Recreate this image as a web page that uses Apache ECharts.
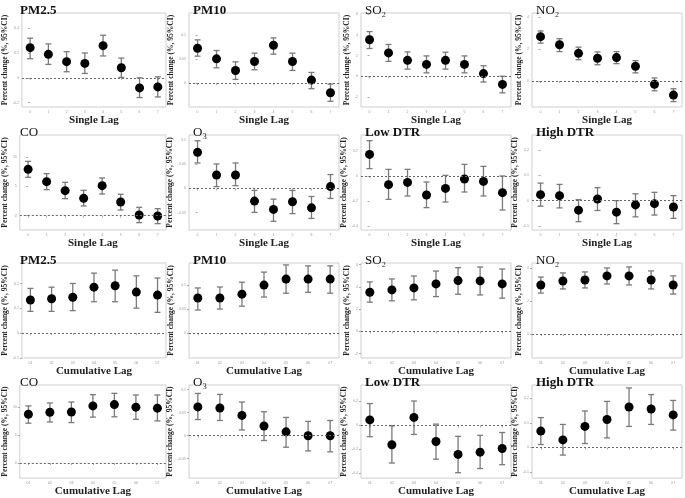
<!DOCTYPE html>
<html>
<head>
<meta charset="utf-8">
<script src="https://cdn.jsdelivr.net/npm/echarts@6/dist/echarts.min.js"></script>
<style>html,body{margin:0;padding:0;background:#fff}#c{width:685px;height:498px}</style>
</head>
<body>
<div id="c"></div>
<script>
// ---------- categories ----------
const singleLags = [0, 1, 2, 3, 4, 5, 6, 7];
const cumLags = [1, 2, 3, 4, 5, 6, 7];
const cumLagLabels = ['01', '02', '03', '04', '05', '06', '07'];

// ---------- Single lag ----------
const pm25SingleEst  = [0.243, 0.189, 0.130, 0.116, 0.259, 0.081, -0.081, -0.073];
const pm25SingleLow  = [0.154, 0.108, 0.049, 0.035, 0.176, 0.003, -0.159, -0.154];
const pm25SingleHigh = [0.319, 0.273, 0.211, 0.200, 0.343, 0.159, 0.000, 0.008];
const pm25SingleTicks = [-0.2, 0, 0.2, 0.4];

const pm10SingleEst  = [0.0724, 0.0503, 0.0262, 0.0448, 0.0786, 0.0448, 0.0062, -0.0200];
const pm10SingleLow  = [0.0559, 0.0317, 0.0076, 0.0276, 0.0600, 0.0262, -0.0117, -0.0379];
const pm10SingleHigh = [0.0897, 0.0676, 0.0441, 0.0621, 0.0938, 0.0621, 0.0221, -0.0021];
const pm10SingleTicks = [0, 0.05, 0.10];

const so2SingleEst  = [3.54, 2.26, 1.54, 1.15, 1.54, 1.15, 0.26, -0.79];
const so2SingleLow  = [2.69, 1.44, 0.69, 0.33, 0.69, 0.33, -0.56, -1.61];
const so2SingleHigh = [4.33, 3.08, 2.36, 1.97, 2.33, 1.97, 1.02, 0.00];
const so2SingleTicks = [-2, 0, 2, 4, 6];

const no2SingleEst  = [2.79, 2.28, 1.74, 1.43, 1.47, 0.92, -0.21, -0.89];
const no2SingleLow  = [2.38, 1.85, 1.34, 1.02, 1.09, 0.51, -0.62, -1.30];
const no2SingleHigh = [3.15, 2.66, 2.13, 1.83, 1.85, 1.28, 0.19, -0.49];
const no2SingleTicks = [0, 2, 4];

const coSingleEst  = [7.94, 5.83, 4.29, 2.97, 5.14, 2.34, 0.11, -0.06];
const coSingleLow  = [6.57, 4.46, 2.91, 1.66, 3.71, 0.97, -1.20, -1.37];
const coSingleHigh = [9.31, 7.20, 5.71, 4.34, 6.46, 3.66, 1.43, 1.20];
const coSingleTicks = [0, 5, 10];

const o3SingleEst  = [0.075, 0.028, 0.028, -0.026, -0.0433, -0.0275, -0.040, 0.004];
const o3SingleLow  = [0.053, 0.004, 0.006, -0.0495, -0.068, -0.052, -0.062, -0.0206];
const o3SingleHigh = [0.099, 0.051, 0.053, -0.004, -0.022, -0.004, -0.0165, 0.029];
const o3SingleTicks = [-0.05, 0, 0.05, 0.10];

const lowDtrSingleEst  = [0.173, -0.069, -0.051, -0.152, -0.099, -0.024, -0.043, -0.133];
const lowDtrSingleLow  = [0.059, -0.187, -0.160, -0.253, -0.208, -0.128, -0.160, -0.272];
const lowDtrSingleHigh = [0.283, 0.053, 0.053, -0.048, 0.005, 0.093, 0.077, 0.000];
const lowDtrSingleTicks = [-0.4, -0.2, 0, 0.2];

const highDtrSingleEst  = [0.0235, 0.0196, -0.0378, 0.0065, -0.0456, -0.017, -0.012, -0.025];
const highDtrSingleLow  = [-0.022, -0.0287, -0.083, -0.039, -0.091, -0.064, -0.057, -0.070];
const highDtrSingleHigh = [0.069, 0.064, 0.004, 0.051, 0.000, 0.027, 0.0326, 0.0196];
const highDtrSingleTicks = [-0.1, 0, 0.1, 0.2];

// ---------- Cumulative lag ----------
const pm25CumEst  = [0.134, 0.139, 0.145, 0.186, 0.192, 0.166, 0.154];
const pm25CumLow  = [0.088, 0.088, 0.091, 0.127, 0.127, 0.101, 0.084];
const pm25CumHigh = [0.181, 0.186, 0.201, 0.243, 0.255, 0.232, 0.223];
const pm25CumTicks = [-0.1, 0, 0.1, 0.2];

const pm10CumEst  = [0.073, 0.073, 0.081, 0.100, 0.1125, 0.1125, 0.1125];
const pm10CumLow  = [0.048, 0.050, 0.056, 0.075, 0.083, 0.085, 0.083];
const pm10CumHigh = [0.094, 0.096, 0.106, 0.127, 0.142, 0.140, 0.140];
const pm10CumTicks = [0, 0.05, 0.10];

const so2CumEst  = [3.52, 3.73, 3.91, 4.27, 4.57, 4.54, 4.27];
const so2CumLow  = [2.63, 2.75, 2.84, 3.13, 3.34, 3.28, 2.99];
const so2CumHigh = [4.45, 4.72, 4.98, 5.43, 5.73, 5.79, 5.61];
const so2CumTicks = [-2, 0, 2, 4, 6];

const no2CumEst  = [2.97, 3.21, 3.27, 3.52, 3.52, 3.27, 2.97];
const no2CumLow  = [2.48, 2.73, 2.79, 3.03, 2.97, 2.73, 2.42];
const no2CumHigh = [3.45, 3.70, 3.76, 4.00, 4.06, 3.82, 3.52];
const no2CumTicks = [0, 2, 4];

const coCumEst  = [8.69, 9.03, 9.09, 10.17, 10.40, 9.94, 9.77];
const coCumLow  = [7.09, 7.31, 7.20, 8.17, 8.23, 7.77, 7.49];
const coCumHigh = [10.17, 10.69, 10.86, 12.17, 12.40, 12.11, 12.11];
const coCumTicks = [0, 5, 10];

const o3CumEst  = [0.0625, 0.060, 0.044, 0.021, 0.0083, 0.000, 0.000];
const o3CumLow  = [0.035, 0.033, 0.0125, -0.0104, -0.025, -0.033, -0.035];
const o3CumHigh = [0.0917, 0.0896, 0.073, 0.052, 0.0396, 0.031, 0.033];
const o3CumTicks = [-0.05, 0, 0.05, 0.10];

const lowDtrCumEst  = [0.046, -0.161, 0.067, -0.134, -0.242, -0.223, -0.193];
const lowDtrCumLow  = [-0.094, -0.314, -0.075, -0.282, -0.395, -0.360, -0.328];
const lowDtrCumHigh = [0.183, -0.003, 0.204, 0.011, -0.091, -0.083, -0.059];
const lowDtrCumTicks = [-0.4, -0.2, 0, 0.2];

const highDtrCumEst  = [0.067, 0.031, 0.086, 0.114, 0.165, 0.157, 0.133];
const highDtrCumLow  = [0.012, -0.031, 0.016, 0.039, 0.086, 0.094, 0.071];
const highDtrCumHigh = [0.122, 0.094, 0.149, 0.188, 0.243, 0.216, 0.192];
const highDtrCumTicks = [-0.1, 0, 0.1, 0.2];

// ---------- panel configuration ----------
const panels = [
  {t: 'PM2.5', b: true,  k: 's', e: pm25SingleEst, l: pm25SingleLow, h: pm25SingleHigh, ticks: pm25SingleTicks, min: -0.235, max: 0.522},
  {t: 'PM10',  b: true,  k: 's', e: pm10SingleEst, l: pm10SingleLow, h: pm10SingleHigh, ticks: pm10SingleTicks, min: -0.0497, max: 0.1455},
  {t: 'SO\u2082', b: false, k: 's', e: so2SingleEst, l: so2SingleLow, h: so2SingleHigh, ticks: so2SingleTicks, min: -2.98, max: 6.13},
  {t: 'NO\u2082', b: false, k: 's', e: no2SingleEst, l: no2SingleLow, h: no2SingleHigh, ticks: no2SingleTicks, min: -1.64, max: 4.28},
  {t: 'CO', b: false, k: 's', e: coSingleEst, l: coSingleLow, h: coSingleHigh, ticks: coSingleTicks, min: -2.46, max: 13.83},
  {t: 'O\u2083', b: false, k: 's', e: o3SingleEst, l: o3SingleLow, h: o3SingleHigh, ticks: o3SingleTicks, min: -0.086, max: 0.111},
  {t: 'Low DTR', b: true, k: 's', e: lowDtrSingleEst, l: lowDtrSingleLow, h: lowDtrSingleHigh, ticks: lowDtrSingleTicks, min: -0.432, max: 0.328},
  {t: 'High DTR', b: true, k: 's', e: highDtrSingleEst, l: highDtrSingleLow, h: highDtrSingleHigh, ticks: highDtrSingleTicks, min: -0.116, max: 0.259},
  {t: 'PM2.5', b: true,  k: 'c', e: pm25CumEst, l: pm25CumLow, h: pm25CumHigh, ticks: pm25CumTicks, min: -0.101, max: 0.284},
  {t: 'PM10',  b: true,  k: 'c', e: pm10CumEst, l: pm10CumLow, h: pm10CumHigh, ticks: pm10CumTicks, min: -0.052, max: 0.146},
  {t: 'SO\u2082', b: false, k: 'c', e: so2CumEst, l: so2CumLow, h: so2CumHigh, ticks: so2CumTicks, min: -2.39, max: 6.15},
  {t: 'NO\u2082', b: false, k: 'c', e: no2CumEst, l: no2CumLow, h: no2CumHigh, ticks: no2CumTicks, min: -1.45, max: 4.30},
  {t: 'CO', b: false, k: 'c', e: coCumEst, l: coCumLow, h: coCumHigh, ticks: coCumTicks, min: -2.69, max: 13.89},
  {t: 'O\u2083', b: false, k: 'c', e: o3CumEst, l: o3CumLow, h: o3CumHigh, ticks: o3CumTicks, min: -0.092, max: 0.110},
  {t: 'Low DTR', b: true, k: 'c', e: lowDtrCumEst, l: lowDtrCumLow, h: lowDtrCumHigh, ticks: lowDtrCumTicks, min: -0.44, max: 0.338},
  {t: 'High DTR', b: true, k: 'c', e: highDtrCumEst, l: highDtrCumLow, h: highDtrCumHigh, ticks: highDtrCumTicks, min: -0.125, max: 0.255}
];

const colLeft = [16, 189, 361, 532];
const colWidth = 150;
const rowTop = [13, 135, 263, 385];
const rowHeight = [94, 95, 95, 97];
const serif = 'Liberation Serif';

const grids = [], xAxes = [], yAxes = [], series = [], titles = [];

panels.forEach((p, i) => {
  const row = Math.floor(i / 4), col = i % 4;
  const lags = p.k === 's' ? singleLags : cumLags;
  grids.push({
    left: colLeft[col], top: rowTop[row], width: colWidth, height: rowHeight[row],
    show: true, borderColor: '#cfcfcf', borderWidth: 1, backgroundColor: 'transparent'
  });
  titles.push({
    text: p.t, left: colLeft[col] - 1, top: rowTop[row] - 14,
    textStyle: {fontFamily: serif, fontSize: 13, fontWeight: p.b ? 'bold' : 'normal', color: '#111'}
  });
  xAxes.push({
    gridIndex: i, type: 'value',
    min: p.k === 's' ? -0.45 : 0.6, max: p.k === 's' ? 7.45 : 7.4,
    name: p.k === 's' ? 'Single Lag' : 'Cumulative Lag',
    nameLocation: 'middle', nameGap: 5,
    nameTextStyle: {fontFamily: serif, fontSize: 11, fontWeight: 'bold', color: '#222'},
    axisLine: {show: false},
    axisTick: {show: true, length: 2, lineStyle: {color: '#aaa'}, customValues: lags},
    axisLabel: {fontSize: 3.5, color: '#999', margin: 3, customValues: lags,
      formatter: v => p.k === 's' ? String(v) : cumLagLabels[cumLags.indexOf(v)]},
    splitLine: {show: false}
  });
  yAxes.push({
    gridIndex: i, type: 'value', min: p.min, max: p.max,
    name: 'Percent change (%, 95%CI)', nameLocation: 'middle', nameGap: 8, nameRotate: 90,
    nameTextStyle: {fontFamily: serif, fontSize: 7.5, fontWeight: 'bold', color: '#222'},
    axisLine: {show: false},
    axisTick: {show: true, length: 2, lineStyle: {color: '#aaa'}, customValues: p.ticks},
    axisLabel: {fontSize: 3.5, color: '#999', margin: 3, customValues: p.ticks,
      formatter: v => String(Math.round(v * 1000) / 1000)},
    splitLine: {show: false}
  });
  const barData = lags.map((x, j) => [x, p.l[j], p.h[j]]);
  series.push({
    type: 'custom', xAxisIndex: i, yAxisIndex: i, silent: true,
    encode: {x: 0, y: [1, 2]},
    renderItem: (params, api) => {
      const x = api.value(0);
      const lo = api.coord([x, api.value(1)]);
      const hi = api.coord([x, api.value(2)]);
      const w = 3;
      const st = {stroke: '#7a7a7a', lineWidth: 1.3};
      return {type: 'group', children: [
        {type: 'line', shape: {x1: lo[0], y1: lo[1], x2: hi[0], y2: hi[1]}, style: st},
        {type: 'line', shape: {x1: lo[0] - w, y1: lo[1], x2: lo[0] + w, y2: lo[1]}, style: st},
        {type: 'line', shape: {x1: hi[0] - w, y1: hi[1], x2: hi[0] + w, y2: hi[1]}, style: st}
      ]};
    },
    data: barData, z: 2
  });
  series.push({
    type: 'scatter', xAxisIndex: i, yAxisIndex: i, silent: true,
    symbol: 'circle', symbolSize: 9, itemStyle: {color: '#000', opacity: 1},
    data: lags.map((x, j) => [x, p.e[j]]), z: 3,
    markLine: {
      silent: true, symbol: ['none', 'none'], label: {show: false},
      lineStyle: {color: '#666', type: [2, 2], width: 1},
      data: [{yAxis: 0}], animation: false
    }
  });
});

const chart = echarts.init(document.getElementById('c'), null, {renderer: 'canvas'});
chart.setOption({
  animation: false,
  title: titles,
  grid: grids,
  xAxis: xAxes,
  yAxis: yAxes,
  series: series
});
</script>
</body>
</html>
